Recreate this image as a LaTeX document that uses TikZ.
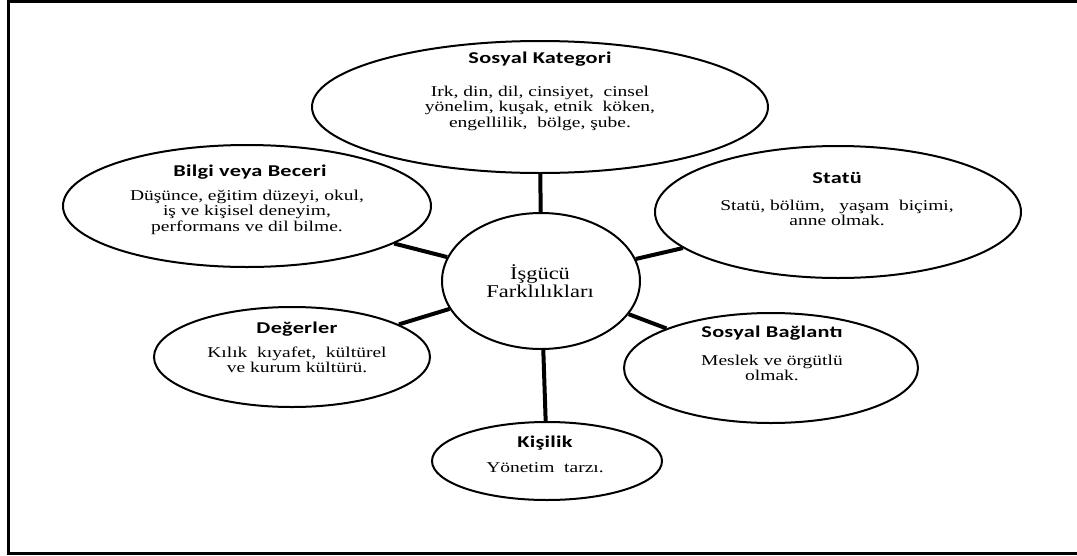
\documentclass[tikz,border=0pt]{standalone}
\usetikzlibrary{shapes.geometric}
\usepackage{fontspec}
\setmainfont{Liberation Serif}
\newfontfamily\bodyfont[FakeStretch=1.3]{Liberation Serif}
\newfontfamily\centfont[FakeStretch=1.25]{Liberation Serif}
\newfontfamily\headfont[FakeStretch=1.35,LetterSpace=1.5]{Carlito}
\begin{document}
\begin{tikzpicture}[x=1pt,y=-1pt,
  bubble/.style={draw=black,line width=2pt,ellipse,fill=white,inner sep=0pt},
  head/.style={font=\headfont\bfseries\fontsize{16.5}{18}\selectfont,inner sep=0pt},
  body/.style={font=\bodyfont\fontsize{15}{15.5}\selectfont,align=center,inner sep=0pt},
  link/.style={line width=4pt}]
\useasboundingbox (0,0) rectangle (1077,555);
\draw[line width=3pt] (1090,1.3) -- (8.5,1.3) -- (8.5,553.5) -- (1090,553.5);
% bubbles
\node[bubble,minimum width=198pt,minimum height=136pt] (c) at (541,281) {};
\node[bubble,minimum width=456pt,minimum height=132pt] (sk) at (540,107) {};
\node[bubble,minimum width=368pt,minimum height=122pt] (bb) at (247,206) {};
\node[bubble,minimum width=366pt,minimum height=132pt] (st) at (838,212) {};
\node[bubble,minimum width=276pt,minimum height=100pt] (dg) at (292,357) {};
\node[bubble,minimum width=294pt,minimum height=110pt] (sb) at (771,368) {};
\node[bubble,minimum width=230pt,minimum height=78pt] (ks) at (547,461) {};
% connectors
\draw[link] (c) -- (sk);
\draw[link] (c) -- (bb);
\draw[link] (c) -- (st);
\draw[link] (c) -- (dg);
\draw[link] (c) -- (sb);
\draw[link] (c) -- (ks);
% texts
\node[body,font=\centfont\fontsize{18}{18}\selectfont] (ct) at (540,281) {İşgücü\\Farklılıkları};
\node[head] (skh) at (540,59) {Sosyal Kategori};
\node[body] (skb) at (540,108) {Irk, din, dil, cinsiyet,\ \ cinsel\\yönelim, kuşak, etnik\ \ köken,\\engellilik,\ \ bölge, şube.};
\node[head] (bbh) at (250,172) {Bilgi veya Beceri};
\node[body] (bbb) at (247,212) {Düşünce, eğitim düzeyi, okul,\\iş ve kişisel deneyim,\\performans ve dil bilme.};
\node[head] (sth) at (837,178) {Statü};
\node[body] (stb) at (837,213) {Statü, bölüm,\ \ \ yaşam\ \ biçimi,\\anne olmak.};
\node[head] (dgh) at (297,329) {Değerler};
\node[body] (dgb) at (297,360) {Kılık\ \ kıyafet,\ \ kültürel\\ve kurum kültürü.};
\node[head] (sbh) at (772,333) {Sosyal Bağlantı};
\node[body] (sbb) at (772,368) {Meslek ve örgütlü\\olmak.};
\node[head] (ksh) at (545,443) {Kişilik};
\node[body] (ksb) at (545,468) {Yönetim\ \ tarzı.};
\end{tikzpicture}
\end{document}
